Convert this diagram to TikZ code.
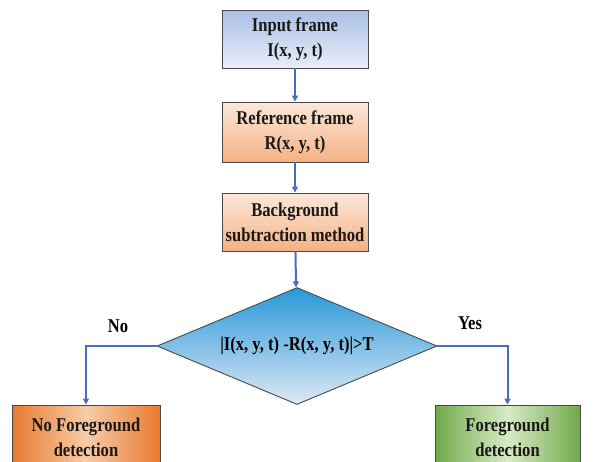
\documentclass[tikz,border=0pt]{standalone}
\usepackage{fontspec}
\setmainfont{Liberation Serif}[FakeStretch=0.85]
\usetikzlibrary{shapes.geometric,arrows.meta}
\definecolor{arrowblue}{HTML}{4A6CC0}
\definecolor{edge}{HTML}{4A4A4A}
\tikzset{
  box/.style={draw=edge, line width=0.9pt, rectangle, inner sep=0pt, align=center,
    font=\fontsize{19.5}{25}\selectfont\bfseries, text=black!90},
  bluebox/.style={box, top color=blue!30!cyan!10!white!80!blue, bottom color=white!88!blue},
  orangebox/.style={box, top color=orange!12!white, bottom color=orange!55!white},
  flow/.style={draw=arrowblue, line width=2pt, -{Triangle[length=6pt,width=6pt]}},
  lbl/.style={font=\fontsize{19.5}{25}\selectfont\bfseries}
}
\begin{document}
\begin{tikzpicture}[x=1pt,y=-1pt]
\useasboundingbox (0,0) rectangle (597,461);
\clip (0,0) rectangle (597,461);
\fill[white] (0,0) rectangle (597,461);
\node[box, top color={rgb,255:red,170;green,192;blue,230}, bottom color={rgb,255:red,232;green,238;blue,248},
  minimum width=146pt, minimum height=58pt] (inp) at (295,39) {Input frame\\I(x, y, t)};
\node[box, top color={rgb,255:red,252;green,232;blue,218}, bottom color={rgb,255:red,244;green,177;blue,131},
  minimum width=146pt, minimum height=60pt] (ref) at (295,132) {Reference frame\\R(x, y, t)};
\node[box, top color={rgb,255:red,252;green,232;blue,218}, bottom color={rgb,255:red,244;green,177;blue,131},
  minimum width=146pt, minimum height=58pt] (bg) at (295,222) {Background\\subtraction method};
\node[diamond, draw=edge, line width=0.9pt, aspect=2.4, inner sep=0pt,
  minimum width=280pt, minimum height=117pt,
  top color={rgb,255:red,40;green,152;blue,216}, bottom color={rgb,255:red,222;green,232;blue,246},
  font=\fontsize{19.5}{25}\selectfont\bfseries] (dec) at (297,346) {|I(x, y, t) -R(x, y, t)|>T};
\node[box, left color={rgb,255:red,232;green,122;blue,48}, right color={rgb,255:red,232;green,122;blue,48},
  middle color={rgb,255:red,247;green,204;blue,168},
  minimum width=148pt, minimum height=64pt] (nofg) at (86,437) {No Foreground\\detection};
\node[box, left color={rgb,255:red,112;green,170;blue,72}, right color={rgb,255:red,112;green,170;blue,72},
  middle color={rgb,255:red,216;green,234;blue,198},
  minimum width=145pt, minimum height=64pt] (fg) at (507.5,437) {Foreground\\detection};
\node[lbl] (no) at (118,326) {No};
\node[lbl] (yes) at (470,323) {Yes};
\draw[flow] (inp) -- (ref);
\draw[flow] (ref) -- (bg);
\draw[flow] (bg) -- (dec);
\draw[flow] (dec.west) -| (nofg.north);
\draw[flow] (dec.east) -| (fg.north);
\end{tikzpicture}
\end{document}
